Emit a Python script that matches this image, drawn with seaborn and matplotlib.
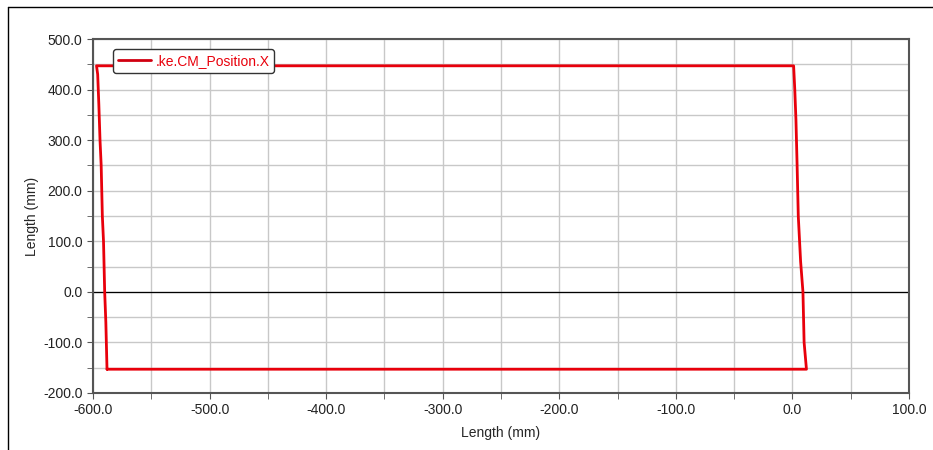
import matplotlib
matplotlib.use("Agg")
import matplotlib.pyplot as plt
import matplotlib.lines as mlines
from matplotlib.ticker import MultipleLocator, FormatStrFormatter
import pandas as pd
import seaborn as sns

# trajectory (mm)
pos_x = [-588, -589, -590, -591, -592, -593, -594, -595, -596, -597,
         1, 2, 3, 4, 5, 7, 9, 10, 12, -588]
pos_y = [-153, -60, 0, 100, 150, 250, 300, 370, 430, 447,
         447, 400, 340, 250, 150, 60, 0, -100, -153, -153]
series_name = ".ke.CM_Position.X"

df = pd.DataFrame({"x": pos_x, "y": pos_y})

sns.set_style("white")
plt.rcParams['font.family'] = ['Liberation Sans', 'DejaVu Sans']

fig = plt.figure(figsize=(9.33, 4.5), dpi=100)
ax = fig.add_axes([0.0997, 0.1267, 0.8746, 0.7866])

ax.set_xlim(-600, 100)
ax.set_ylim(-200, 500)
ax.xaxis.set_major_locator(MultipleLocator(100))
ax.xaxis.set_minor_locator(MultipleLocator(50))
ax.yaxis.set_major_locator(MultipleLocator(100))
ax.yaxis.set_minor_locator(MultipleLocator(50))
ax.xaxis.set_major_formatter(FormatStrFormatter("%.1f"))
ax.yaxis.set_major_formatter(FormatStrFormatter("%.1f"))
ax.grid(True, which="both", color="#c8c8c8", linewidth=1.0)
ax.set_axisbelow(True)
ax.axhline(0, color="black", linewidth=0.9, zorder=1.5)

sns.lineplot(data=df, x="x", y="y", sort=False, estimator=None,
             color="#e8000b", linewidth=2, ax=ax, legend=False)

for s in ax.spines.values():
    s.set_color("#555555")
    s.set_linewidth(1.5)
ax.tick_params(which="both", direction="out", length=4, color="#555555",
               labelsize=10, labelcolor="#222222", bottom=True, left=True)

ax.set_xlabel("Length (mm)", fontsize=10, labelpad=6)
ax.set_ylabel("Length (mm)", fontsize=10, labelpad=3)

handle = mlines.Line2D([], [], color="#d00010", linewidth=2)
leg = ax.legend([handle], [series_name], loc="upper left",
                bbox_to_anchor=(0.016, 0.99), fontsize=10, frameon=True,
                fancybox=True, handlelength=2.4, borderpad=0.35,
                handletextpad=0.3, framealpha=1)
leg.get_frame().set_edgecolor("#333333")
leg.get_frame().set_linewidth(1.0)
for t in leg.get_texts():
    t.set_color("#e8000b")

# outer frame lines (top and left)
fig.add_artist(mlines.Line2D([8 / 933, 1], [1 - 7 / 450, 1 - 7 / 450],
                             color="black", linewidth=1))
fig.add_artist(mlines.Line2D([8 / 933, 8 / 933], [0, 1 - 7 / 450],
                             color="black", linewidth=1))

fig.savefig("out.png", dpi=100)
